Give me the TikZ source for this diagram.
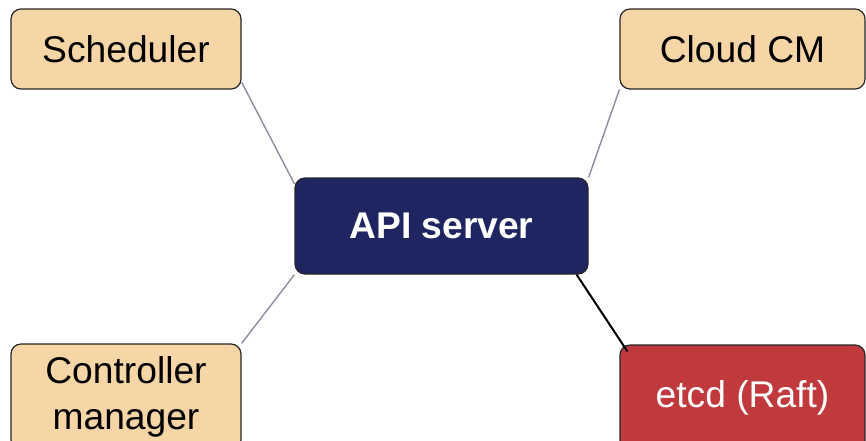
\documentclass[tikz,border=0pt]{standalone}
\usepackage{fontspec}
\setmainfont{Liberation Sans}
\definecolor{boxtan}{HTML}{F6D5A7}
\definecolor{apinavy}{HTML}{1F2560}
\definecolor{etcdred}{HTML}{C0393C}
\definecolor{linkgray}{HTML}{8A8FA0}
\begin{document}
\begin{tikzpicture}[x=1pt,y=1pt,
    part/.style={draw=black!85,line width=0.6pt,rounded corners=5pt,fill=boxtan,
      minimum width=115pt,minimum height=40pt,align=center,
      font=\fontsize{18.6}{23}\selectfont},
    core/.style={part,fill=apinavy,text=white,minimum width=146.5pt,minimum height=48pt,
      font=\fontsize{18.6}{23}\selectfont\bfseries},
    store/.style={part,fill=etcdred,text=white,minimum width=122.5pt,minimum height=53pt},
    link/.style={linkgray,line width=0.7pt}]
  \clip (0,0) rectangle (433,-220);
  \node[part] (sched) at (63,-24.5) {Scheduler};
  \node[part,minimum width=122.5pt] (cloud) at (371.25,-24.5) {Cloud CM};
  \node[core] (api) at (220.75,-113) {API server};
  \node[part,minimum height=53pt] (ctrl) at (63,-198.5) {Controller\\manager};
  \node[store] (etcd) at (371.25,-199) {etcd (Raft)};
  \begin{scope}[-]
    \draw[link] (sched.-16) to (api.164);
    \draw[link] (cloud.south west) to (api.north east);
    \draw[link] (ctrl.north east) to (api.south west);
    \draw[line width=1pt] ([xshift=-6pt]api.south east) to ([shift={(4pt,-3.5pt)}]etcd.north west);
  \end{scope}
\end{tikzpicture}
\end{document}
